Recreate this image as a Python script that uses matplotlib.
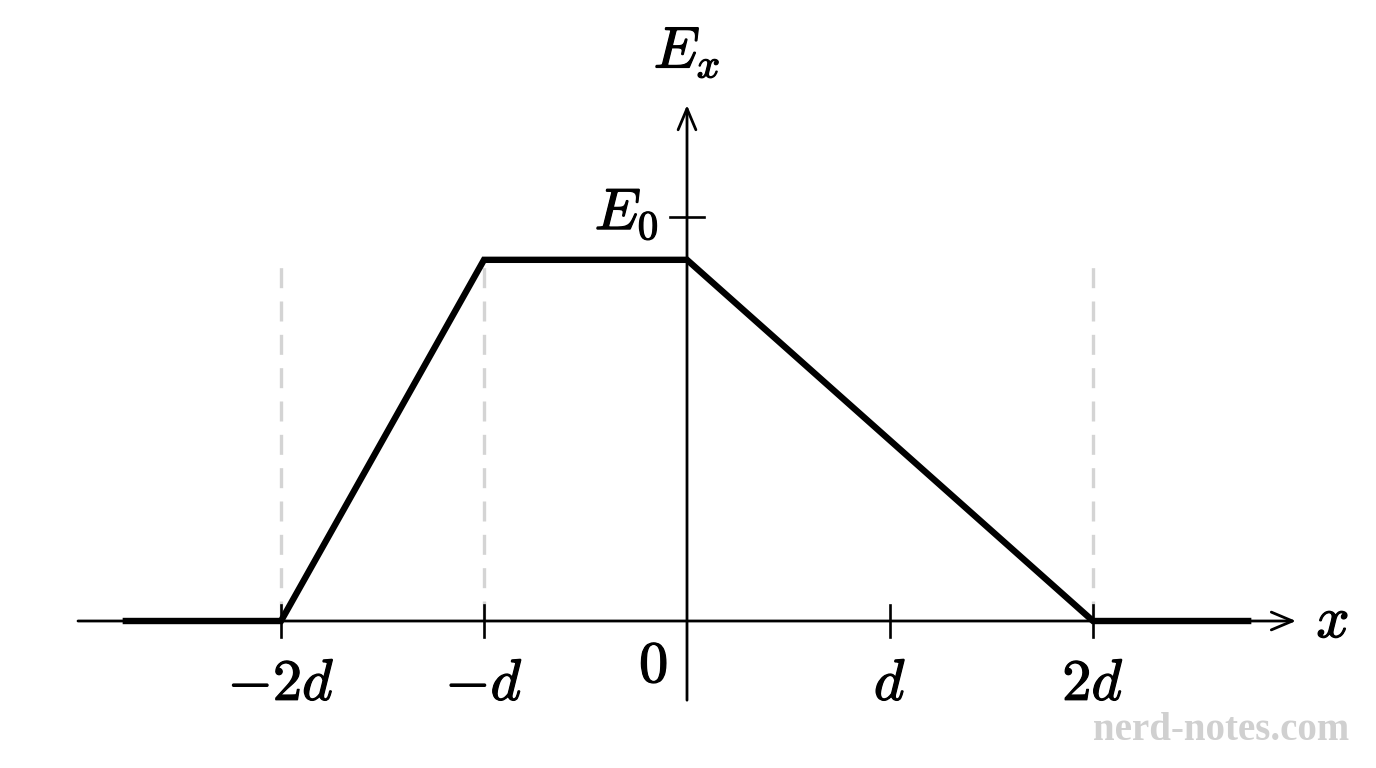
import matplotlib
matplotlib.use("Agg")
import matplotlib.pyplot as plt
import matplotlib.patheffects as pe

plt.rcParams['mathtext.fontset'] = 'cm'

# field profile, x in units of d, E in units of E0
x_pts = [-2.78, -2, -1, 0, 2, 2.78]
E_pts = [0, 0, 0.894, 0.894, 0, 0]

tick_pos = [-2, -1, 1, 2]
tick_labels = [r'$-2d$', r'$-d$', r'$d$', r'$2d$']
dash_pos = [-2, -1, 2]
E0 = 1.0

fig = plt.figure(figsize=(13.76, 7.68), dpi=100)
ax = fig.add_axes([0, 0, 1, 1])
ax.set_xlim(-687 / 203, (1376 - 687) / 203)
ax.set_ylim((621 - 768) / 404, 621 / 404)
ax.axis('off')

# dashed guide lines
for xp in dash_pos:
    ax.plot([xp, xp], [0, 0.894], color='#d4d4d4', lw=2.4,
            dashes=(6, 4), zorder=1)

# axes with arrows
arrow = dict(arrowstyle='->,head_length=0.38,head_width=0.16', lw=2.0,
             color='black', mutation_scale=40, shrinkA=0, shrinkB=0)
ax.annotate('', xy=(3.0, 0), xytext=(-3.0, 0), arrowprops=arrow)
ax.annotate('', xy=(0, 1.277), xytext=(0, -0.196), arrowprops=arrow)

# ticks
for xp in tick_pos:
    ax.plot([xp, xp], [-0.04, 0.04], color='black', lw=1.9)
ax.plot([-0.085, 0.085], [E0, E0], color='black', lw=1.9)

# curve
ax.plot(x_pts, E_pts, color='black', lw=4.6, solid_capstyle='butt',
        solid_joinstyle='miter', zorder=3)

# labels
fs = 42
bold = [pe.withStroke(linewidth=0.9, foreground='black')]
for xp, lab in zip(tick_pos, tick_labels):
    ax.text(xp, -0.155, lab, fontsize=fs, ha='center', va='center', path_effects=bold)
ax.text(-0.165, -0.11, r'$0$', fontsize=fs, ha='center', va='center', path_effects=bold)
ax.text(-0.14, E0 + 0.01, r'$E_0$', fontsize=fs, ha='right', va='center', path_effects=bold)
ax.text(0, 1.41, r'$E_x$', fontsize=fs, ha='center', va='center', path_effects=bold)
ax.text(3.1, 0, r'$x$', fontsize=fs, ha='left', va='center', path_effects=bold)

ax.text(3.26, -0.27, 'nerd-notes.com', fontsize=28, family='Liberation Serif',
        fontweight='bold', color='#d0d0d0', ha='right', va='center')

fig.savefig('out.png', dpi=100)
